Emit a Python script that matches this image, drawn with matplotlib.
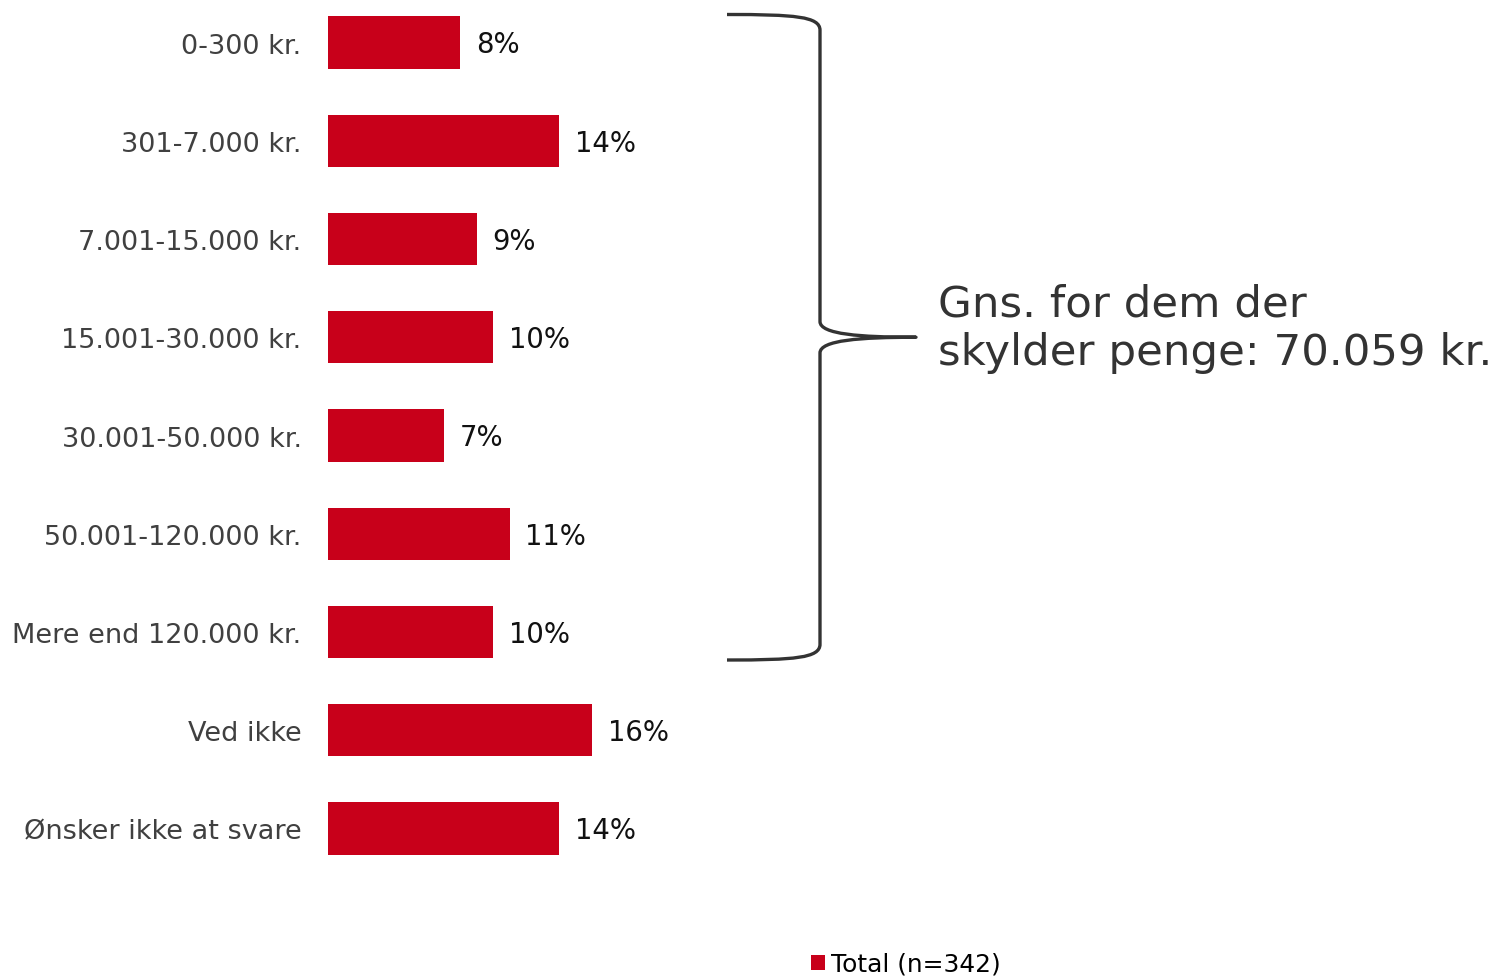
import matplotlib
matplotlib.use("Agg")
import matplotlib.pyplot as plt
from matplotlib.path import Path
from matplotlib.patches import PathPatch, Patch

plt.rcParams["font.family"] = ["DejaVu Sans"]

categories = ["0-300 kr.", "301-7.000 kr.", "7.001-15.000 kr.", "15.001-30.000 kr.",
              "30.001-50.000 kr.", "50.001-120.000 kr.", "Mere end 120.000 kr.",
              "Ved ikke", "Ønsker ikke at svare"]
values = [8, 14, 9, 10, 7, 11, 10, 16, 14]
value_labels = ["8%", "14%", "9%", "10%", "7%", "11%", "10%", "16%", "14%"]
series_name = "Total (n=342)"
note = "Gns. for dem der\nskylder penge: 70.059 kr."

RED = "#C8001A"
W, H = 1494, 978
fig = plt.figure(figsize=(W / 100, H / 100), dpi=100)
left = 328 / W
ax = fig.add_axes([left, 0, 1 - left, 1])

px_per_unit = 16.5
ax.set_xlim(0, (W - 328) / px_per_unit)
spacing = 98.25
y0 = 43.5
ax.set_ylim((H - y0) / spacing, -y0 / spacing)

ypos = list(range(len(categories)))
ax.barh(ypos, values, height=0.53, color=RED)
for y, v, lab in zip(ypos, values, value_labels):
    ax.text(v + 16 / px_per_unit, y + 0.02, lab, va="center", ha="left",
            fontsize=19.8, color="#111111")

ax.set_yticks(ypos)
ax.set_yticklabels(categories, fontsize=19.5, color="#404040")
ax.tick_params(axis="y", length=0, pad=19)
ax.set_xticks([])
for s in ax.spines.values():
    s.set_visible(False)

# Curly brace spanning the first seven categories
def X(px):
    return (px - 328) / px_per_unit

top = 0 - 0.53 / 2 - 0.02
bot = 6 + 0.53 / 2 + 0.02
mid = 3
xa, xv, xt = X(727), X(820), X(916)
r = 0.16
verts = [
    (xa, top), (X(795), top), (xv, top + 0.02), (xv, top + r),
    (xv, mid - r),
    (xv, mid - 0.03), (X(860), mid), (xt, mid),
    (X(860), mid), (xv, mid + 0.03), (xv, mid + r),
    (xv, bot - r),
    (xv, bot - 0.02), (X(795), bot), (xa, bot),
]
codes = [Path.MOVETO, Path.CURVE4, Path.CURVE4, Path.CURVE4,
         Path.LINETO,
         Path.CURVE4, Path.CURVE4, Path.CURVE4,
         Path.CURVE4, Path.CURVE4, Path.CURVE4,
         Path.LINETO,
         Path.CURVE4, Path.CURVE4, Path.CURVE4]
brace = PathPatch(Path(verts, codes), fill=False, edgecolor="#333333",
                  linewidth=2.4, transform=ax.transData, clip_on=False,
                  capstyle="butt", joinstyle="round")
ax.add_patch(brace)

ax.text(X(938), mid - 0.1, note, fontsize=31.3, color="#333333",
        ha="left", va="center", linespacing=1.2)

handle = Patch(facecolor=RED, edgecolor="none")
fig.legend([handle], [series_name], loc="center left",
           bbox_to_anchor=(811 / W, 1 - 965 / H), frameon=False,
           fontsize=17.9, handlelength=0.55, handleheight=0.55,
           handletextpad=0.25, borderpad=0, borderaxespad=0)

fig.savefig("out.png", dpi=100)
